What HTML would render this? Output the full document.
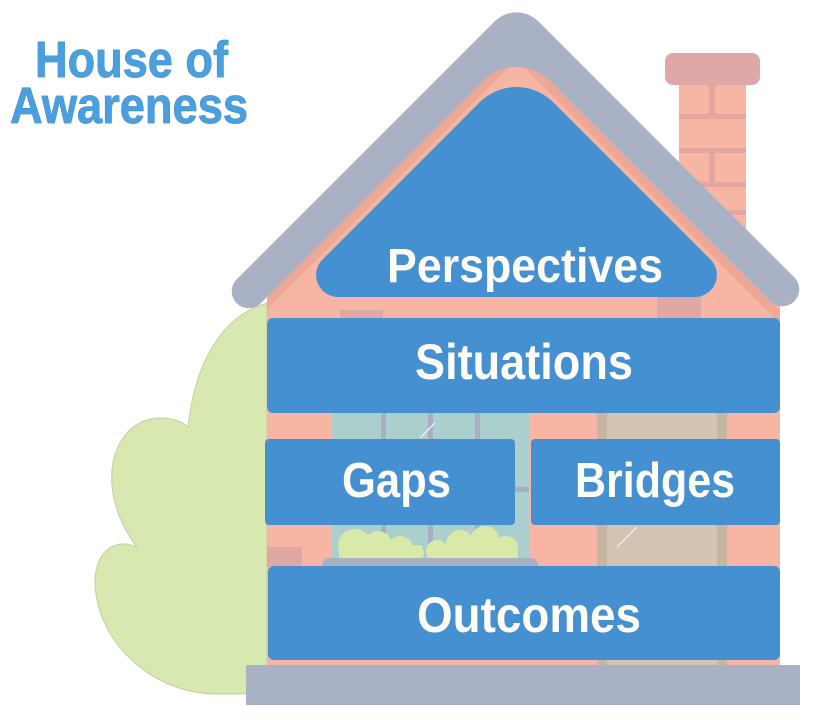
<!DOCTYPE html>
<html>
<head>
<meta charset="utf-8">
<style>
  html, body { margin:0; padding:0; background:#ffffff; }
  body { width:816px; height:720px; overflow:hidden; }
  svg { display:block; }
  .lbl { font-family:"Liberation Sans", sans-serif; font-weight:bold; fill:#FFFCF6; }
  .ttl { font-family:"Liberation Sans", sans-serif; font-weight:bold; fill:#4B9FDD; stroke:#3F86C2; stroke-width:0.8; paint-order:stroke; }
</style>
</head>
<body>
<svg width="816" height="720" viewBox="0 0 816 720" xmlns="http://www.w3.org/2000/svg">
  <defs>
    <clipPath id="wallclip"><rect x="267" y="0" width="513" height="720"/></clipPath>
  </defs>

  <!-- Title -->
  <text class="ttl" x="35" y="77" font-size="51" textLength="193" lengthAdjust="spacingAndGlyphs">House of</text>
  <text class="ttl" x="10" y="123" font-size="51" textLength="238" lengthAdjust="spacingAndGlyphs">Awareness</text>

  <!-- Bush -->
  <path d="M 267 303 C 222 316, 195 362, 188 427 C 175 414, 128 408, 114 458 C 106 492, 120 525, 137 547 C 115 537, 95 552, 95 582 C 96 640, 150 693, 215 694 L 267 694 Z"
        fill="#D7E8B0" stroke="#C3D09E" stroke-width="1"/>

  <!-- Chimney -->
  <rect x="679" y="80" width="67" height="200" fill="#F7B6A3"/>
  <rect x="679" y="114" width="67" height="5" fill="#E3A79F"/>
  <rect x="679" y="148" width="67" height="5" fill="#E3A79F"/>
  <rect x="679" y="182" width="67" height="5" fill="#E3A79F"/>
  <rect x="679" y="210" width="67" height="5" fill="#E3A79F"/>
  <rect x="709" y="85" width="6" height="30" fill="#E3A79F"/>
  <rect x="709" y="152" width="6" height="31" fill="#E3A79F"/>
  <rect x="665" y="53" width="95" height="32" rx="8" fill="#DDA8A5"/>

  <!-- House walls -->
  <rect x="267" y="300" width="513" height="365" fill="#F7B6A3"/>
  <polygon points="267,330 267,290 516,40 780,305 780,330" fill="#F7B6A3"/>
  <!-- darker stripe under roof -->
  <g clip-path="url(#wallclip)">
    <polyline points="240,330 516.5,53.5 800,337" fill="none" stroke="#EEA896" stroke-width="9" stroke-linejoin="miter"/>
  </g>

  <!-- Roof -->
  <path d="M 236 280 L 494.6 21.4 A 31 31 0 0 1 538.4 21.4 L 795 278 A 17 17 0 0 1 771 302 L 549.7 80.7 A 47 47 0 0 0 483.3 80.7 L 260 304 A 17 17 0 0 1 236 280 Z" fill="#A9B1C4"/>

  <!-- accent bricks -->
  <rect x="340" y="310" width="43" height="10" fill="#DFA8A5"/>
  <rect x="657" y="290" width="44" height="30" fill="#DFA8A5"/>
  <rect x="267" y="547" width="35" height="20" fill="#DFA8A5"/>

  <!-- Window -->
  <rect x="332" y="413" width="197" height="148" fill="#AACFCD"/>
  <rect x="381" y="413" width="5" height="146" fill="#A9AEC6"/>
  <rect x="428" y="413" width="5" height="146" fill="#A9AEC6"/>
  <rect x="475" y="413" width="5" height="146" fill="#A9AEC6"/>
  <rect x="332" y="487" width="197" height="5" fill="#A9AEC6"/>
  <line x1="420" y1="438" x2="435" y2="423" stroke="#E6F2F1" stroke-width="1.5"/>
  <!-- window plants -->
  <g fill="#D8E9A8">
    <circle cx="355" cy="546" r="17"/>
    <circle cx="378" cy="545" r="14"/>
    <circle cx="400" cy="549" r="13"/>
    <circle cx="416" cy="553" r="8"/>
    <rect x="339" y="545" width="83" height="14"/>
    <circle cx="437" cy="551" r="11"/>
    <circle cx="460" cy="544" r="14"/>
    <circle cx="485" cy="541" r="15"/>
    <circle cx="506" cy="548" r="12"/>
    <rect x="427" y="547" width="91" height="12"/>
  </g>
  <rect x="322" y="558" width="216" height="16" rx="7" fill="#A9B0C4"/>

  <!-- Door -->
  <rect x="597" y="413" width="130" height="252" fill="#C6B5A3"/>
  <rect x="607" y="413" width="110" height="252" fill="#D3C5B4"/>
  <line x1="617" y1="547" x2="637" y2="527" stroke="#EFE7DE" stroke-width="1.5"/>

  <!-- Perspectives gable shape -->
  <path d="M 338.1 297 L 694.9 297 A 22 22 0 0 0 710.4 259.4 L 553.3 102.3 A 52 52 0 0 0 479.7 102.3 L 322.6 259.4 A 22 22 0 0 0 338.1 297 Z" fill="#4590D0"/>
  <text class="lbl" x="387" y="282" font-size="48" textLength="276" lengthAdjust="spacingAndGlyphs">Perspectives</text>

  <!-- Situations -->
  <rect x="267" y="318" width="513" height="95" rx="6" fill="#4590D0"/>
  <text class="lbl" x="415" y="379" font-size="50" textLength="218" lengthAdjust="spacingAndGlyphs">Situations</text>

  <!-- Gaps -->
  <rect x="265" y="439" width="250" height="86" rx="4" fill="#4590D0"/>
  <text class="lbl" x="342" y="497" font-size="49" textLength="109" lengthAdjust="spacingAndGlyphs">Gaps</text>

  <!-- Bridges -->
  <rect x="531" y="439" width="249" height="86" rx="4" fill="#4590D0"/>
  <text class="lbl" x="575" y="497" font-size="49" textLength="160" lengthAdjust="spacingAndGlyphs">Bridges</text>

  <!-- Outcomes -->
  <rect x="268" y="566" width="512" height="94" rx="6" fill="#4590D0"/>
  <text class="lbl" x="417" y="632" font-size="50" textLength="224" lengthAdjust="spacingAndGlyphs">Outcomes</text>

  <!-- Base -->
  <rect x="246" y="665" width="554" height="40" fill="#A9B1C4"/>
</svg>
</body>
</html>
